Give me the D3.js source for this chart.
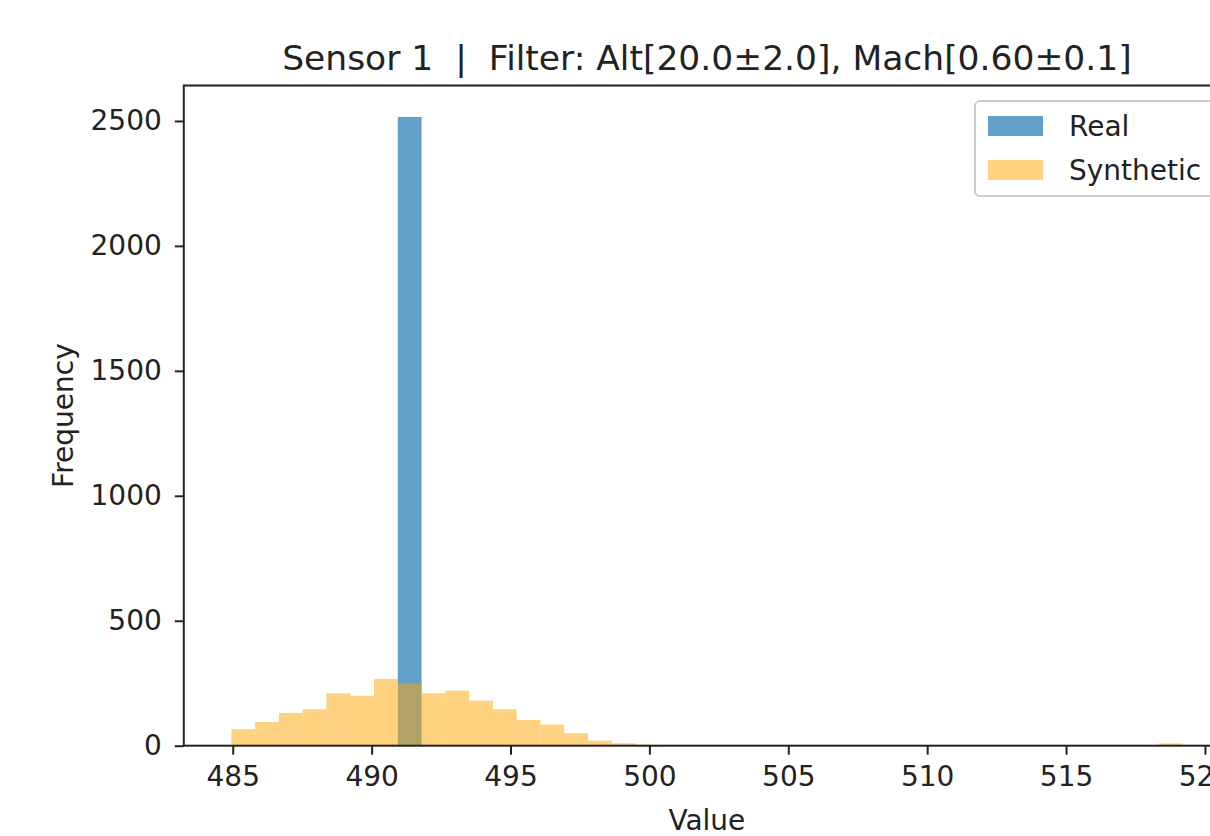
<!DOCTYPE html>
<html>
<head>
<meta charset="utf-8">
<script src="https://cdn.jsdelivr.net/npm/d3@7"></script>
<style>
  body { margin: 0; background: #fff; }
  svg { display: block; font-family: "DejaVu Sans", sans-serif; }
</style>
</head>
<body>
<svg id="histChart"></svg>
<script>
// shared histogram bins (40 bins)
const binStart = 484.95;
const binWidth = 0.856;

const realCounts = [
  0, 0, 0, 0, 0, 0, 0, 2516, 0, 0,
  0, 0, 0, 0, 0, 0, 0, 0, 0, 0,
  0, 0, 0, 0, 0, 0, 0, 0, 0, 0,
  0, 0, 0, 0, 0, 0, 0, 0, 0, 0
];

const synthCounts = [
  66, 95, 131, 146, 210, 200, 267, 249, 210, 220,
  180, 146, 103, 84, 50, 20, 10, 4, 1, 0,
  0, 0, 0, 0, 0, 0, 0, 0, 0, 0,
  0, 0, 0, 0, 0, 0, 0, 0, 0, 9
];

const xTicks = [485, 490, 495, 500, 505, 510, 515, 520];
const yTicks = [0, 500, 1000, 1500, 2000, 2500];
const seriesNames = ["Real", "Synthetic"];
const titleText = "Sensor 1  |  Filter: Alt[20.0\u00b12.0], Mach[0.60\u00b10.1]";

const tickFont = "28px";
const titleFont = "34.5px";

function getChartConfig() {
  const dimensions = {
    width: 1210,
    height: 836,
    margin: { top: 85.5, bottom: 90.3, left: 183.8, right: -20 }
  };
  const chart = d3.select("#histChart")
    .attr("width", dimensions.width)
    .attr("height", dimensions.height);
  return {
    dimensions,
    container: chart,
    chartDimensions: {
      width: dimensions.width - dimensions.margin.left - dimensions.margin.right,
      height: dimensions.height - dimensions.margin.top - dimensions.margin.bottom
    }
  };
}

function getScales(config) {
  const binEnd = binStart + binWidth * synthCounts.length;
  const pad = (binEnd - binStart) * 0.05;
  const xScale = d3.scaleLinear()
    .domain([binStart - pad, binEnd + pad])
    .range([0, config.chartDimensions.width]);
  const maxCount = d3.max(realCounts.concat(synthCounts));
  const yScale = d3.scaleLinear()
    .domain([0, maxCount * 1.05])
    .range([config.chartDimensions.height, 0]);
  return { xScale, yScale };
}

function drawBars(g, counts, scales, color, opacity) {
  const { xScale, yScale } = scales;
  const bins = counts.map((c, i) => ({
    x0: binStart + i * binWidth,
    x1: binStart + (i + 1) * binWidth,
    count: c
  })).filter(d => d.count > 0);

  g.append("g")
    .selectAll("rect")
    .data(bins)
    .join("rect")
    .attr("x", d => xScale(d.x0))
    .attr("width", d => xScale(d.x1) - xScale(d.x0))
    .attr("y", d => yScale(d.count))
    .attr("height", d => yScale(0) - yScale(d.count))
    .attr("fill", color)
    .attr("fill-opacity", opacity);
}

function drawAxes(g, config, scales) {
  const { xScale, yScale } = scales;
  const h = config.chartDimensions.height;
  const w = config.chartDimensions.width;

  const axisX = g.append("g")
    .attr("transform", `translate(0,${h})`)
    .call(d3.axisBottom(xScale).tickValues(xTicks).tickSize(9).tickPadding(11).tickFormat(d3.format("d")));

  const axisY = g.append("g")
    .call(d3.axisLeft(yScale).tickValues(yTicks).tickSize(9).tickPadding(13).tickFormat(d3.format("d")));

  [axisX, axisY].forEach(a => {
    a.select(".domain").remove();
    a.selectAll("line").attr("stroke", "#222").attr("stroke-width", 2);
    a.selectAll("text")
      .attr("fill", "#222")
      .style("font-size", tickFont)
      .style("font-family", "DejaVu Sans");
  });

  // spines
  g.append("rect")
    .attr("x", 0).attr("y", 0)
    .attr("width", w).attr("height", h)
    .attr("fill", "none")
    .attr("stroke", "#222")
    .attr("stroke-width", 2);
}

function drawLabels(config) {
  const { container, dimensions, chartDimensions } = config;
  const cx = dimensions.margin.left + chartDimensions.width / 2;

  container.append("text")
    .attr("x", cx)
    .attr("y", 70)
    .attr("text-anchor", "middle")
    .style("font-size", titleFont)
    .attr("fill", "#222")
    .style("white-space", "pre")
    .text(titleText);

  container.append("text")
    .attr("x", cx)
    .attr("y", 830)
    .attr("text-anchor", "middle")
    .style("font-size", tickFont)
    .attr("fill", "#222")
    .text("Value");

  const cy = dimensions.margin.top + chartDimensions.height / 2;
  container.append("text")
    .attr("transform", `translate(73,${cy}) rotate(-90)`)
    .attr("text-anchor", "middle")
    .style("font-size", tickFont)
    .attr("fill", "#222")
    .text("Frequency");
}

function drawLegend(config) {
  const { container } = config;
  const colors = ["#1f77b4", "orange"];
  const opac = [0.7, 0.5];
  const lg = container.append("g");

  lg.append("rect")
    .attr("x", 975).attr("y", 101)
    .attr("width", 242).attr("height", 95)
    .attr("rx", 5)
    .attr("fill", "#fff")
    .attr("fill-opacity", 0.8)
    .attr("stroke", "#cccccc")
    .attr("stroke-width", 2);

  seriesNames.forEach((name, i) => {
    const yc = 126 + i * 44;
    lg.append("rect")
      .attr("x", 988).attr("y", yc - 10)
      .attr("width", 55).attr("height", 20)
      .attr("fill", colors[i])
      .attr("fill-opacity", opac[i]);
    lg.append("text")
      .attr("x", 1069)
      .attr("y", yc + 10)
      .style("font-size", tickFont)
      .attr("fill", "#222")
      .text(name);
  });
}

function renderChart() {
  const config = getChartConfig();
  const scales = getScales(config);
  const g = config.container.append("g")
    .attr("transform", `translate(${config.dimensions.margin.left},${config.dimensions.margin.top})`);
  drawBars(g, realCounts, scales, "#1f77b4", 0.7);
  drawBars(g, synthCounts, scales, "orange", 0.5);
  drawAxes(g, config, scales);
  drawLabels(config);
  drawLegend(config);
}

renderChart();
</script>
</body>
</html>
